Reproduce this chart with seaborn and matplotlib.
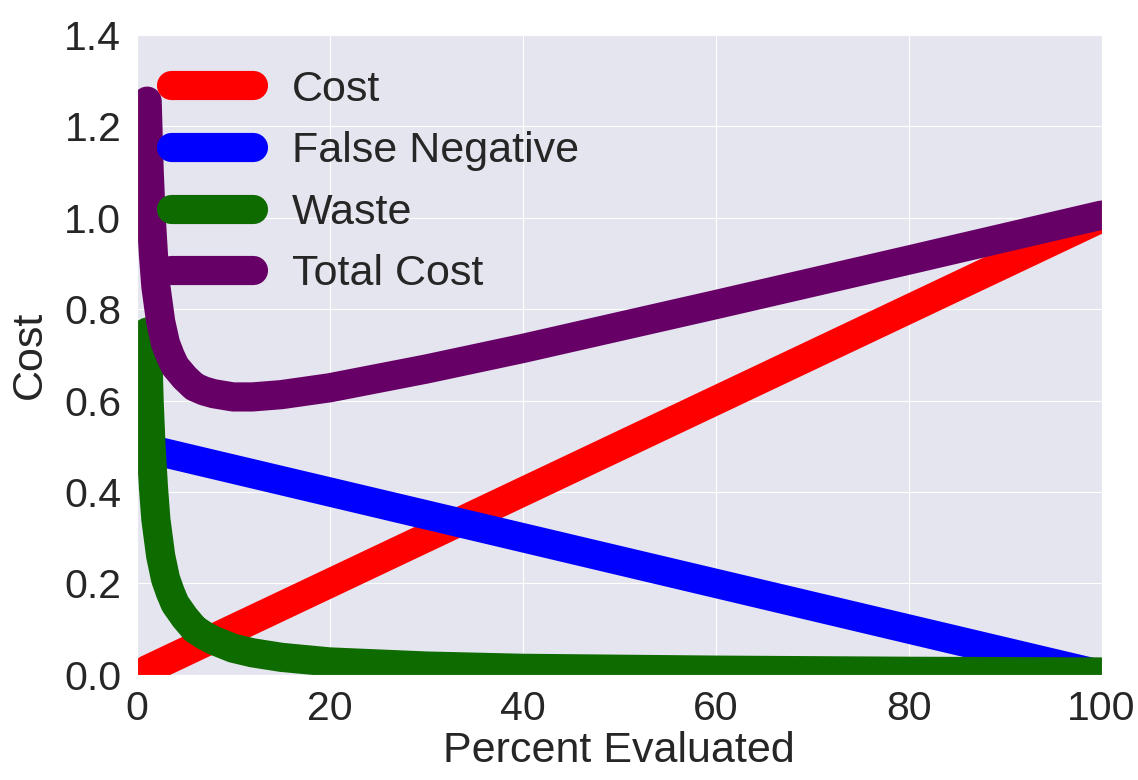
import numpy as np
import pandas as pd
import seaborn as sns
import matplotlib
matplotlib.use('Agg')
import matplotlib.pyplot as plt

# values
pct = [1.1, 1.3, 1.5, 1.75, 2, 2.5, 3, 3.5, 4, 5, 6, 7, 8, 10, 12, 15, 20, 30, 40, 60, 80, 100]
cost = [0.011, 0.013, 0.015, 0.0175, 0.02, 0.025, 0.03, 0.035, 0.04, 0.05, 0.06, 0.07, 0.08,
        0.10, 0.12, 0.15, 0.20, 0.30, 0.40, 0.60, 0.80, 1.00]
false_neg = [0.4945, 0.4935, 0.4925, 0.49125, 0.49, 0.4875, 0.485, 0.4825, 0.48, 0.475, 0.47,
             0.465, 0.46, 0.45, 0.44, 0.425, 0.40, 0.35, 0.30, 0.20, 0.10, 0.00]
waste = [0.75, 0.60, 0.50, 0.41, 0.34, 0.26, 0.21, 0.18, 0.155, 0.125, 0.10, 0.086, 0.075,
         0.058, 0.048, 0.038, 0.028, 0.019, 0.014, 0.010, 0.0075, 0.006]
total = [1.2555, 1.1065, 1.0075, 0.91875, 0.85, 0.7725, 0.725, 0.6975, 0.675, 0.65, 0.63,
         0.621, 0.615, 0.608, 0.608, 0.613, 0.628, 0.669, 0.714, 0.81, 0.9075, 1.006]

series = ['Cost', 'False Negative', 'Waste', 'Total Cost']
colors = ['#ff0000', '#0000ff', '#0d6b00', '#660066']

df = pd.DataFrame({'pct': pct, 'Cost': cost, 'False Negative': false_neg,
                   'Waste': waste, 'Total Cost': total})

sns.set_style('darkgrid', {'axes.facecolor': '#e5e5ef'})
plt.rcParams['font.family'] = ['Liberation Sans', 'DejaVu Sans']

fig = plt.figure(figsize=(11.38, 7.8), dpi=100)
ax = fig.add_axes([0.120, 0.135, 0.848, 0.82])

for name, c in zip(series, colors):
    sns.lineplot(x='pct', y=name, data=df, ax=ax, color=c, linewidth=21,
                 label=name, solid_capstyle='round', solid_joinstyle='round')

ax.set_xlim(0, 100)
ax.set_ylim(0, 1.4)
ax.set_xticks([0, 20, 40, 60, 80, 100])
ax.set_yticks(np.arange(0, 1.41, 0.2))
ax.set_yticklabels(['%.1f' % v for v in np.arange(0, 1.41, 0.2)])
ax.tick_params(labelsize=29.5, pad=7.5)
ax.set_xlabel('Percent Evaluated', fontsize=31, labelpad=2)
ax.set_ylabel('Cost', fontsize=31, labelpad=10)

leg = ax.legend(loc='upper left', frameon=False, fontsize=31, handlelength=1.9,
                labelspacing=0.5, borderaxespad=0.4, handletextpad=0.9)

fig.savefig('out.png', dpi=100)
